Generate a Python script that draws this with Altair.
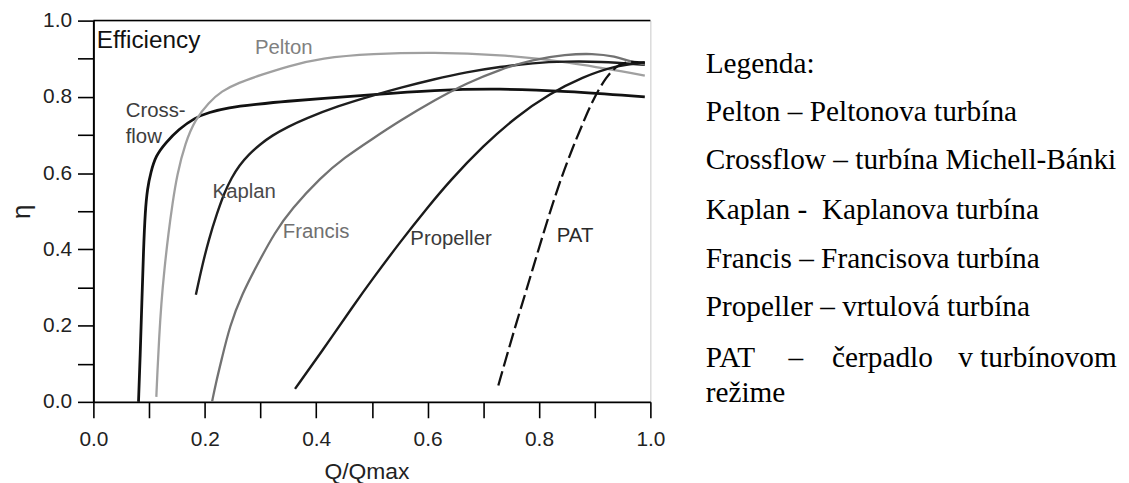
import altair as alt
import pandas as pd

# ---------------- data ----------------
crossflow_x = [0.081, 0.084, 0.087, 0.090, 0.093, 0.097, 0.103, 0.112, 0.130, 0.153, 0.183,
               0.207, 0.242, 0.290, 0.349, 0.409, 0.500, 0.611, 0.730, 0.848, 0.990]
crossflow_y = [0.000, 0.120, 0.260, 0.400, 0.500, 0.560, 0.602, 0.646, 0.680, 0.715, 0.746,
               0.759, 0.772, 0.780, 0.789, 0.795, 0.806, 0.818, 0.822, 0.815, 0.800]

pelton_x = [0.113, 0.115, 0.118, 0.122, 0.127, 0.135, 0.142, 0.150, 0.165, 0.183, 0.207,
            0.230, 0.260, 0.302, 0.349, 0.409, 0.500, 0.611, 0.730, 0.848, 0.990]
pelton_y = [0.013, 0.080, 0.168, 0.260, 0.342, 0.446, 0.520, 0.595, 0.680, 0.741, 0.785,
            0.815, 0.837, 0.858, 0.880, 0.902, 0.913, 0.917, 0.911, 0.893, 0.856]

kaplan_x = [0.184, 0.195, 0.207, 0.222, 0.235, 0.248, 0.262, 0.278, 0.300, 0.320, 0.350,
            0.379, 0.439, 0.500, 0.551, 0.611, 0.670, 0.730, 0.789, 0.848, 0.908, 0.990]
kaplan_y = [0.281, 0.355, 0.425, 0.495, 0.548, 0.588, 0.620, 0.648, 0.676, 0.698, 0.722,
            0.742, 0.776, 0.803, 0.824, 0.846, 0.865, 0.879, 0.889, 0.893, 0.893, 0.884]

francis_x = [0.213, 0.220, 0.230, 0.245, 0.266, 0.296, 0.326, 0.355, 0.409, 0.450, 0.500,
             0.551, 0.611, 0.670, 0.730, 0.789, 0.848, 0.896, 0.938, 0.961, 0.990]
francis_y = [0.000, 0.050, 0.110, 0.200, 0.280, 0.365, 0.445, 0.505, 0.590, 0.640, 0.689,
             0.738, 0.790, 0.836, 0.872, 0.898, 0.911, 0.914, 0.906, 0.894, 0.885]

propeller_x = [0.362, 0.409, 0.468, 0.500, 0.551, 0.600, 0.640, 0.700, 0.759, 0.819, 0.878,
               0.938, 0.990]
propeller_y = [0.034, 0.130, 0.255, 0.320, 0.420, 0.510, 0.580, 0.672, 0.748, 0.808, 0.852,
               0.882, 0.891]

pat_x = [0.727, 0.743, 0.759, 0.775, 0.789, 0.805, 0.822, 0.840, 0.860, 0.878, 0.896,
         0.920, 0.944, 0.967, 0.990]
pat_y = [0.043, 0.125, 0.205, 0.282, 0.350, 0.428, 0.508, 0.588, 0.665, 0.728, 0.790,
         0.852, 0.888, 0.893, 0.889]

tick_values = [0.0, 0.1, 0.2, 0.3, 0.4, 0.5, 0.6, 0.7, 0.8, 0.9, 1.0]

# in-plot curve labels (data coordinates of left/baseline)
ann_labels = ["Pelton", "Cross-", "flow", "Kaplan", "Francis", "Propeller", "PAT"]
ann_x = [0.290, 0.058, 0.058, 0.214, 0.340, 0.569, 0.832]
ann_y = [0.913, 0.746, 0.680, 0.535, 0.429, 0.411, 0.420]
panel_title = "Efficiency"
panel_title_x = [0.006]
panel_title_y = [0.928]

legend_lines = [
    "Legenda:",
    "Pelton – Peltonova turbína",
    "Crossflow – turbína Michell-Bánki",
    "Kaplan - \u00a0Kaplanova turbína",
    "Francis – Francisova turbína",
    "Propeller – vrtulová turbína",
]
legend_last_words = ["PAT", "–", "čerpadlo", "v turbínovom"]
legend_wrap = "režime"

# ---------------- layout constants ----------------
W, H = 561, 384
LEG_X_PX = 616.7
LEG_BASELINES_PX = [52.5, 101, 149.5, 199.5, 249, 298]
LEG_LAST_BASELINE_PX = 348.5
LEG_WRAP_BASELINE_PX = 384
LEG_LAST_X_PX = [616.7, 700, 744, 871]


def px_x(px):
    return px / W


def px_y(py):
    return 1 - py / H


# ---------------- build tables ----------------
series = [
    ("Crossflow", crossflow_x, crossflow_y),
    ("Pelton", pelton_x, pelton_y),
    ("Kaplan", kaplan_x, kaplan_y),
    ("Francis", francis_x, francis_y),
    ("Propeller", propeller_x, propeller_y),
    ("PAT", pat_x, pat_y),
]
rows = []
for name, xs, ys in series:
    for i, (a, b) in enumerate(zip(xs, ys)):
        rows.append({"series": name, "q": a, "eta": b, "order": i})
df = pd.DataFrame(rows)

label_expr = "round(datum.value*10) % 2 == 0 ? format(datum.value, '.1f') : ''"
FONT = "Liberation Sans"

xaxis = alt.Axis(values=tick_values, labelExpr=label_expr, title="Q/Qmax", grid=False,
                 domainColor="black", domainWidth=2, tickColor="black", tickWidth=1.6,
                 tickSize=16, labelFont=FONT, labelFontSize=21, labelColor="#222",
                 labelPadding=11, labelFlush=False, labelOverlap=False,
                 titleFont=FONT, titleFontSize=23, titleFontWeight="normal",
                 titleColor="#222", titleX=275, titleY=77, titleBaseline="alphabetic",
                 titleAlign="center")
yaxis = alt.Axis(values=tick_values, labelExpr=label_expr, title="η", grid=False,
                 domainColor="black", domainWidth=2, tickColor="black", tickWidth=1.6,
                 tickSize=16, labelFont=FONT, labelFontSize=21, labelColor="#222",
                 labelPadding=6, labelFlush=False, labelOverlap=False,
                 titleFont=FONT, titleFontSize=26, titleFontWeight="normal",
                 titleColor="#222", titleX=-72, titleY=H / 2, titleAngle=270,
                 titleBaseline="middle", titleAlign="center")

xscale = alt.Scale(domain=[0, 1], nice=False, zero=False)
yscale = alt.Scale(domain=[0, 1], nice=False, zero=False)
X = alt.X("q:Q", scale=xscale, axis=xaxis)
Y = alt.Y("eta:Q", scale=yscale, axis=yaxis)

styles = {
    "Crossflow": dict(color="#111111", strokeWidth=2.8),
    "Pelton": dict(color="#a0a0a0", strokeWidth=2.3),
    "Kaplan": dict(color="#1e1e1e", strokeWidth=2.4),
    "Francis": dict(color="#727272", strokeWidth=2.3),
    "Propeller": dict(color="#1a1a1a", strokeWidth=2.4),
    "PAT": dict(color="#111111", strokeWidth=2.3, strokeDash=[15, 5]),
}

layers = []
for name, _, _ in series:
    sub = df[df.series == name]
    layers.append(
        alt.Chart(sub).mark_line(interpolate="basis", **styles[name])
        .encode(x=X, y=Y, order="order:Q")
    )

# top frame line
frame = pd.DataFrame({"q": [0.0], "q2": [1.0], "eta": [1.0]})
layers.append(alt.Chart(frame).mark_rule(color="black", strokeWidth=1.5)
              .encode(x=X, x2="q2:Q", y=Y))

ann = pd.DataFrame({"label": ann_labels, "q": ann_x, "eta": ann_y})
ann_colors = ["#808080", "#3c3c3c", "#3c3c3c", "#4a4a4a", "#707070", "#3a3a3a", "#2a2a2a"]
layers.append(
    alt.Chart(ann).mark_text(align="left", baseline="alphabetic", font=FONT, fontSize=20.5)
    .encode(x=X, y=Y, text="label:N",
            color=alt.Color("label:N", scale=alt.Scale(domain=ann_labels, range=ann_colors),
                            legend=None))
)
ttl = pd.DataFrame({"label": [panel_title], "q": panel_title_x, "eta": panel_title_y})
layers.append(
    alt.Chart(ttl).mark_text(align="left", baseline="alphabetic", font=FONT, fontSize=24.5,
                             color="#111")
    .encode(x=X, y=Y, text="label:N")
)

# legend text on the right
leg_rows = [{"label": t, "q": px_x(LEG_X_PX), "eta": px_y(b)}
            for t, b in zip(legend_lines, LEG_BASELINES_PX)]
leg_rows += [{"label": t, "q": px_x(xp), "eta": px_y(LEG_LAST_BASELINE_PX)}
             for t, xp in zip(legend_last_words, LEG_LAST_X_PX)]
leg_rows.append({"label": legend_wrap, "q": px_x(LEG_X_PX), "eta": px_y(LEG_WRAP_BASELINE_PX)})
leg = pd.DataFrame(leg_rows)
layers.append(
    alt.Chart(leg).mark_text(align="left", baseline="alphabetic", font="Liberation Serif",
                             fontSize=29.5, color="black")
    .encode(x=X, y=Y, text="label:N")
)

chart = alt.layer(*layers).properties(
    width=W, height=H,
    autosize=alt.AutoSizeParams(type="none"),
    padding={"left": 86, "top": 11, "right": 474, "bottom": 80},
).configure_view(stroke="#c8c8c8", strokeWidth=1)

chart.save("out.html", embed_options={"renderer": "svg", "actions": False})
